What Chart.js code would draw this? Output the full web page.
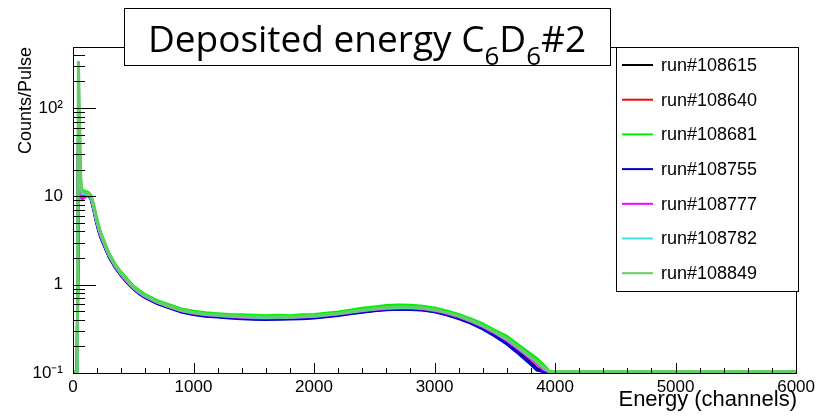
<!DOCTYPE html>
<html><head><meta charset="utf-8">
<script src="https://cdn.jsdelivr.net/npm/chart.js@4"></script>
<style>html,body{margin:0;padding:0;background:#fff;overflow:hidden}</style>
</head><body>
<canvas id="c" width="819" height="416" style="display:block;width:819px;height:416px"></canvas>
<script>
// ---- data (channels of energy histogram) ----
const channels = [0,20,35,45,55,65,75,90,110,130, 150,170,190,210,230,260,300,350,400,450, 500,550,600,700,800,900,1000,1100,1200,1300, 1400,1500,1600,1700,1800,1900,2000,2100,2200,2300, 2400,2500,2600,2700,2800,2900,3000,3100,3200,3300, 3400,3500,3600,3700,3800,3850,3900,3950,4000,6000];

const run108615 = [0,0,0,42,24,11.5,10.0,10.2,10.4,10.4, 9.4,7.4,5.5,4.3,3.5,2.8,2.08,1.59,1.28,1.06, 0.91,0.8,0.72,0.615,0.55,0.495,0.465,0.445,0.435,0.425, 0.418,0.412,0.41,0.412,0.414,0.418,0.425,0.438,0.452,0.473, 0.493,0.51,0.525,0.533,0.531,0.52,0.498,0.462,0.42,0.372, 0.322,0.268,0.218,0.17,0.13,0.112,0.097,0,0,0];
const run108640 = [0,0,0,50,27,12.5,10.5,10.5,10.5,10.4, 9.6,7.6,5.7,4.45,3.65,2.88,2.13,1.63,1.31,1.09, 0.925,0.815,0.735,0.63,0.562,0.508,0.478,0.458,0.448,0.438, 0.43,0.425,0.422,0.425,0.427,0.431,0.438,0.451,0.466,0.487, 0.507,0.526,0.541,0.549,0.547,0.537,0.514,0.478,0.436,0.388, 0.338,0.286,0.236,0.187,0.147,0.13,0.112,0.098,0,0];
const run108681 = [0,0,0,55,30,14,11.8,11.5,11.3,11.0, 10.2,8.2,6.2,4.8,3.9,3.05,2.25,1.7,1.38,1.15, 0.97,0.86,0.77,0.66,0.59,0.53,0.50,0.48,0.47,0.46, 0.455,0.45,0.445,0.45,0.445,0.455,0.46,0.475,0.49,0.515, 0.54,0.56,0.58,0.59,0.585,0.57,0.545,0.505,0.46,0.41, 0.36,0.305,0.26,0.205,0.163,0.145,0.125,0.105,0,0];
const run108755 = [0,0,0,45,25,11,9.6,9.8,10.1,10.2, 9.2,7.2,5.4,4.2,3.45,2.75,2.05,1.57,1.27,1.05, 0.9,0.79,0.71,0.61,0.545,0.49,0.46,0.44,0.43,0.42, 0.41,0.405,0.402,0.405,0.408,0.412,0.42,0.432,0.448,0.468, 0.488,0.505,0.52,0.527,0.525,0.515,0.492,0.456,0.414,0.366, 0.316,0.263,0.213,0.165,0.125,0.108,0.093,0,0,0];
const run108777 = [0,0,0,49,26,12,9.3,9.6,10.2,10.3, 9.5,7.5,5.6,4.4,3.6,2.85,2.12,1.62,1.3,1.08, 0.92,0.81,0.73,0.625,0.56,0.505,0.475,0.455,0.445,0.435, 0.428,0.422,0.42,0.423,0.425,0.43,0.436,0.45,0.465,0.485, 0.505,0.522,0.538,0.545,0.543,0.533,0.51,0.475,0.432,0.385, 0.335,0.283,0.233,0.184,0.144,0.127,0.11,0.096,0,0];
const run108782 = [0,0,0,60,28,13,10.8,10.7,10.6,10.5, 9.7,7.7,5.8,4.5,3.7,2.9,2.15,1.64,1.32,1.1, 0.93,0.82,0.74,0.635,0.565,0.51,0.48,0.46,0.45,0.44, 0.432,0.428,0.425,0.427,0.428,0.432,0.44,0.452,0.468,0.49, 0.51,0.53,0.545,0.552,0.55,0.54,0.518,0.482,0.44,0.392, 0.342,0.29,0.24,0.19,0.15,0.133,0.115,0.1,0,0];
const run108849 = [0,0,0,340,75,15,11.2,11.0,10.9,10.7, 9.9,7.9,5.9,4.6,3.75,2.95,2.18,1.66,1.34,1.11, 0.94,0.83,0.75,0.64,0.57,0.515,0.485,0.465,0.455,0.445, 0.44,0.435,0.43,0.432,0.43,0.438,0.445,0.46,0.472,0.495, 0.515,0.535,0.55,0.56,0.558,0.545,0.522,0.486,0.443,0.395, 0.345,0.292,0.245,0.194,0.152,0.135,0.117,0.1,0,0];

const seriesValues = [run108615, run108640, run108681, run108755, run108777, run108782, run108849];
const seriesNames = ['run#108615','run#108640','run#108681','run#108755','run#108777','run#108782','run#108849'];
const seriesColors = ['#000000','#ff0000','#00f000','#0000d0','#ff00ff','#40e0e0','#66cc66'];

const xTickValues = [0,1000,2000,3000,4000,5000,6000];
const xMinorTicks = [200,400,600,800,1200,1400,1600,1800,2200,2400,2600,2800,3200,3400,3600,3800,4200,4400,4600,4800,5200,5400,5600,5800];
const yMajorTicks = [0.1,1,10,100];
const yMinorTicks = [0.2,0.3,0.4,0.5,0.6,0.7,0.8,0.9,2,3,4,5,6,7,8,9,20,30,40,50,60,70,80,90,200,300,400];
const yTickLabels = {0.1:'10\u207B\u00B9', 1:'1', 10:'10', 100:'10\u00B2'};

const X_MIN = 0, X_MAX = 6000, Y_MIN = 0.1, Y_MAX = 490;
const Y_FLOOR = 0.104; // empty bins drawn on the bottom of the log frame

const FONT = "'Liberation Sans', Arial, Helvetica, sans-serif";

const rootPlugin = {
  id: 'rootDecor',
  afterDatasetsDraw(chart) {
    const ctx = chart.ctx;
    const a = chart.chartArea;
    const xs = chart.scales.x, ys = chart.scales.y;
    ctx.save();
    ctx.strokeStyle = '#000';
    ctx.lineWidth = 1;
    // frame
    ctx.strokeRect(Math.round(a.left) + 0.5, Math.round(a.top) + 0.5, Math.round(a.right - a.left), Math.round(a.bottom - a.top));
    // y ticks (inside)
    ctx.beginPath();
    yMajorTicks.forEach(v => { const p = Math.round(ys.getPixelForValue(v)) + 0.5; ctx.moveTo(a.left, p); ctx.lineTo(a.left + 23, p); });
    yMinorTicks.forEach(v => { const p = Math.round(ys.getPixelForValue(v)) + 0.5; ctx.moveTo(a.left, p); ctx.lineTo(a.left + 12, p); });
    // x ticks (inside)
    xTickValues.forEach(v => { const p = Math.round(xs.getPixelForValue(v)) + 0.5; ctx.moveTo(p, a.bottom); ctx.lineTo(p, a.bottom - 10); });
    xMinorTicks.forEach(v => { const p = Math.round(xs.getPixelForValue(v)) + 0.5; ctx.moveTo(p, a.bottom); ctx.lineTo(p, a.bottom - 5); });
    ctx.stroke();

    // title box
    ctx.fillStyle = '#fff';
    ctx.fillRect(124, 8, 486, 57);
    ctx.strokeRect(124.5, 8.5, 486, 57);
    ctx.fillStyle = '#000';
    ctx.textBaseline = 'alphabetic';
    const mainF = "37px 'Open Sans', 'Noto Sans', sans-serif";
    const subF = "26px 'Open Sans', 'Noto Sans', sans-serif";
    const parts = [['Deposited energy C', mainF, 0], ['6', subF, 13], ['D', mainF, 0], ['6', subF, 13], ['#2', mainF, 0]];
    let total = 0;
    parts.forEach(p => { ctx.font = p[1]; total += ctx.measureText(p[0]).width; });
    let tx = 367 - total / 2;
    parts.forEach(p => { ctx.font = p[1]; ctx.textAlign = 'left'; ctx.fillText(p[0], tx, 52 + p[2]); tx += ctx.measureText(p[0]).width; });

    // legend box
    ctx.fillStyle = '#fff';
    ctx.fillRect(616, 47, 182, 244);
    ctx.strokeRect(616.5, 47.5, 182, 244);
    ctx.font = '18px ' + FONT;
    ctx.textBaseline = 'middle';
    ctx.textAlign = 'left';
    seriesNames.forEach((n, i) => {
      const y = 65 + i * 34.7;
      ctx.strokeStyle = seriesColors[i];
      ctx.lineWidth = 2;
      ctx.beginPath(); ctx.moveTo(622, y); ctx.lineTo(653, y); ctx.stroke();
      ctx.fillStyle = '#000';
      ctx.fillText(n, 661, y + 1);
    });

    // axis titles
    ctx.fillStyle = '#000';
    ctx.font = '22px ' + FONT;
    ctx.textAlign = 'right';
    ctx.textBaseline = 'alphabetic';
    ctx.fillText('Energy (channels)', 797, 406);
    ctx.save();
    ctx.translate(31, 47);
    ctx.rotate(-Math.PI / 2);
    ctx.font = '18px ' + FONT;
    ctx.textAlign = 'right';
    ctx.textBaseline = 'alphabetic';
    ctx.fillText('Counts/Pulse', 0, 0);
    ctx.restore();
    ctx.restore();
  }
};

const datasets = seriesValues.map((vals, i) => ({
  label: seriesNames[i],
  data: channels.map((c, j) => ({ x: c, y: Math.max(vals[j], Y_FLOOR) })),
  borderColor: seriesColors[i],
  backgroundColor: seriesColors[i],
  borderWidth: 3,
  pointRadius: 0,
  tension: 0,
  fill: false,
  order: seriesValues.length - 1 - i,
  clip: false
}));

new Chart(document.getElementById('c').getContext('2d'), {
  type: 'line',
  data: { datasets },
  options: {
    responsive: false,
    animation: false,
    events: [],
    layout: { padding: { top: 47, right: 22, left: 0, bottom: 0 } },
    plugins: { legend: { display: false }, tooltip: { enabled: false }, title: { display: false } },
    scales: {
      x: {
        type: 'linear', min: X_MIN, max: X_MAX,
        afterBuildTicks: s => { s.ticks = xTickValues.map(v => ({ value: v })); },
        afterFit: s => { s.height = 43; },
        ticks: { autoSkip: false, maxRotation: 0, color: '#000', padding: 4, font: { family: FONT, size: 17 }, callback: v => String(v) },
        grid: { display: false, drawTicks: false },
        border: { display: false }
      },
      y: {
        type: 'logarithmic', min: Y_MIN, max: Y_MAX,
        afterBuildTicks: s => { s.ticks = yMajorTicks.concat(yMinorTicks).sort((p, q) => p - q).map(v => ({ value: v })); },
        afterFit: s => { s.width = 73; },
        ticks: { autoSkip: false, color: '#000', padding: 10, font: { family: FONT, size: 17 }, callback: v => (yTickLabels[v] !== undefined ? yTickLabels[v] : '') },
        grid: { display: false, drawTicks: false },
        border: { display: false }
      }
    }
  },
  plugins: [rootPlugin]
});
</script>
</body></html>
